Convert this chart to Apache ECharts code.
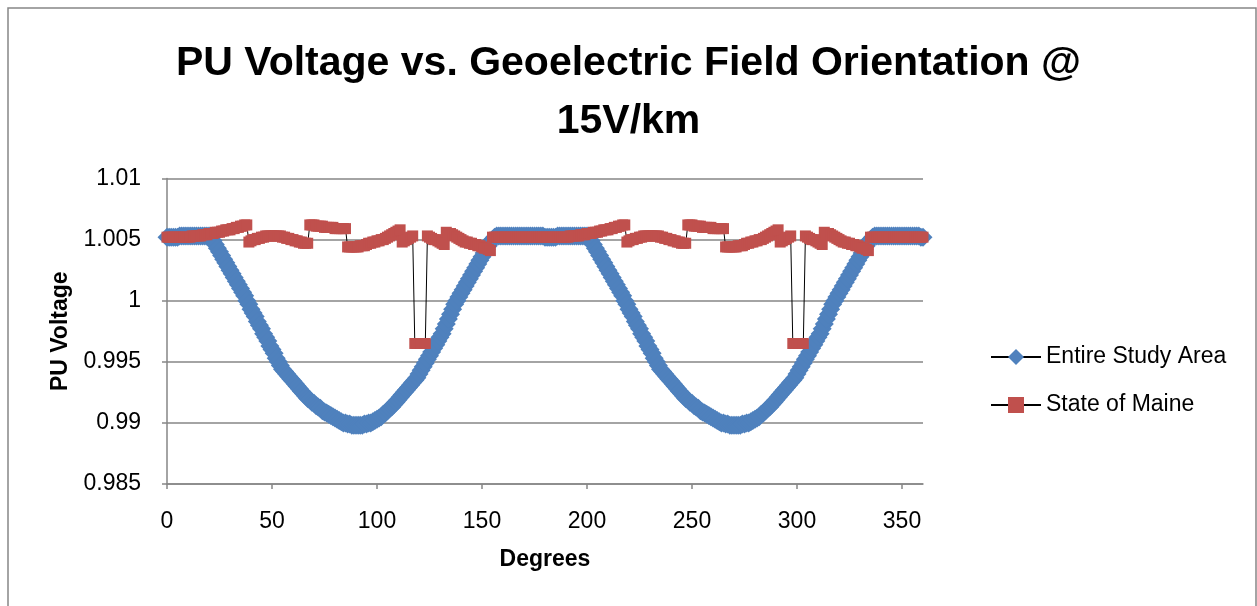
<!DOCTYPE html>
<html>
<head>
<meta charset="utf-8">
<script src="https://cdn.jsdelivr.net/npm/echarts@6/dist/echarts.min.js"></script>
<style>
html,body{margin:0;padding:0;background:#fff;}
#chart{width:1257px;height:606px;}
</style>
</head>
<body>
<div id="chart"></div>
<script>
// Degrees 0..360 (one point per degree)
const degrees = Array.from({length: 361}, (_, i) => i);

const seriesNames = ['Entire Study Area', 'State of Maine'];

// Entire Study Area (PU voltage), 0..360 deg
const entireStudyArea = [
1.0052,1.0052,1.0052,1.0052,1.0052,1.0052,
1.0053,1.0053,1.0053,1.0053,1.0053,1.0053,1.0053,1.0053,1.0053,1.0053,1.0053,1.0053,1.0053,1.0053,1.0053,
1.0052,1.0049,1.0046,1.0043,1.0040,1.0037,1.0034,1.0031,1.0028,1.0025,
1.0022,1.0019,1.0016,1.0013,1.0010,1.0007,1.0004,1.0000,0.9997,0.9993,
0.9990,0.9987,0.9983,0.9980,0.9977,0.9973,0.9970,0.9967,0.9963,0.9960,
0.9957,0.9953,0.9950,0.9947,0.9944,0.9942,0.9940,0.9938,0.9936,0.9934,
0.9932,0.9930,0.9928,0.9926,0.9924,0.9922,0.9920,0.9919,0.9917,0.9916,
0.9914,0.9913,0.9912,0.9910,0.9909,0.9908,0.9907,0.9906,0.9905,0.9904,
0.9903,0.9902,0.9901,0.9900,0.9900,0.9899,0.9899,0.9898,0.9898,0.9898,
0.9898,0.9898,0.9898,0.9899,0.9899,0.9900,0.9900,0.9901,0.9902,0.9903,
0.9904,0.9905,0.9907,0.9908,0.9910,0.9912,0.9913,0.9915,0.9917,0.9919,
0.9921,0.9923,0.9925,0.9927,0.9929,0.9931,0.9933,0.9935,0.9937,0.9940,
0.9943,0.9946,0.9949,0.9952,0.9955,0.9958,0.9961,0.9964,0.9967,0.9970,
0.9973,0.9977,0.9981,0.9985,0.9989,0.9993,0.9997,1.0000,1.0003,1.0006,
1.0009,1.0012,1.0015,1.0018,1.0021,1.0024,1.0027,1.0030,1.0033,1.0036,
1.0039,1.0042,1.0045,1.0048,1.0050,1.0052,1.0053,1.0053,1.0053,1.0053,
1.0053,1.0053,1.0053,1.0053,1.0053,1.0053,1.0053,1.0053,1.0053,1.0053,
1.0053,1.0053,1.0053,1.0053,1.0053,1.0053,1.0053,1.0053,1.0053,1.0052,
1.0052,1.0052,1.0052,1.0052,1.0052,
1.0053,1.0053,1.0053,1.0053,1.0053,1.0053,1.0053,1.0053,1.0053,1.0053,1.0053,1.0053,1.0053,1.0053,1.0053,
1.0052,1.0049,1.0046,1.0043,1.0040,1.0037,1.0034,1.0031,1.0028,1.0025,
1.0022,1.0019,1.0016,1.0013,1.0010,1.0007,1.0004,1.0000,0.9997,0.9993,
0.9990,0.9987,0.9983,0.9980,0.9977,0.9973,0.9970,0.9967,0.9963,0.9960,
0.9957,0.9953,0.9950,0.9947,0.9944,0.9942,0.9940,0.9938,0.9936,0.9934,
0.9932,0.9930,0.9928,0.9926,0.9924,0.9922,0.9920,0.9919,0.9917,0.9916,
0.9914,0.9913,0.9912,0.9910,0.9909,0.9908,0.9907,0.9906,0.9905,0.9904,
0.9903,0.9902,0.9901,0.9900,0.9900,0.9899,0.9899,0.9898,0.9898,0.9898,
0.9898,0.9898,0.9898,0.9899,0.9899,0.9900,0.9900,0.9901,0.9902,0.9903,
0.9904,0.9905,0.9907,0.9908,0.9910,0.9912,0.9913,0.9915,0.9917,0.9919,
0.9921,0.9923,0.9925,0.9927,0.9929,0.9931,0.9933,0.9935,0.9937,0.9940,
0.9943,0.9946,0.9949,0.9952,0.9955,0.9958,0.9961,0.9964,0.9967,0.9970,
0.9973,0.9977,0.9981,0.9985,0.9989,0.9993,0.9997,1.0000,1.0003,1.0006,
1.0009,1.0012,1.0015,1.0018,1.0021,1.0024,1.0027,1.0030,1.0033,1.0036,
1.0039,1.0042,1.0045,1.0048,1.0050,1.0052,1.0053,1.0053,1.0053,1.0053,
1.0053,1.0053,1.0053,1.0053,1.0053,1.0053,1.0053,1.0053,1.0053,1.0053,
1.0053,1.0053,1.0053,1.0053,1.0053,1.0053,1.0053,1.0053,1.0052,1.0052
];

// State of Maine (PU voltage), 0..360 deg
const stateOfMaine = [
1.0052,1.0052,1.0052,1.0052,1.0052,1.0052,1.0052,1.0052,1.0052,1.0052,1.0052,1.0052,
1.0053,1.0053,1.0053,1.0053,1.0053,
1.0054,1.0054,1.0054,1.0055,1.0055,1.0055,1.0056,1.0056,1.0056,
1.0057,1.0057,1.0058,1.0058,1.0058,1.0059,1.0059,1.0060,1.0060,1.0061,1.0061,1.0062,1.0062,
1.0048,1.0049,1.0050,1.0050,1.0051,1.0051,1.0052,1.0052,1.0053,1.0053,
1.0053,1.0053,1.0053,1.0053,1.0053,1.0053,1.0052,1.0052,1.0051,1.0051,
1.0050,1.0050,1.0049,1.0049,1.0048,1.0048,1.0047,1.0047,1.0047,
1.0062,1.0062,1.0062,1.0061,1.0061,1.0061,1.0061,1.0060,1.0060,1.0060,1.0060,1.0060,1.0059,1.0059,1.0059,1.0059,1.0059,1.0059,
1.0044,1.0044,1.0044,1.0044,1.0044,1.0044,1.0045,1.0045,1.0045,1.0046,
1.0047,1.0047,1.0048,1.0048,1.0049,1.0049,1.0050,1.0050,1.0051,1.0052,
1.0053,1.0054,1.0055,1.0056,1.0057,1.0058,
1.0048,1.0049,1.0050,1.0051,1.0052,1.0053,
0.9965,0.9965,0.9965,0.9965,0.9965,0.9965,
1.0053,1.0052,1.0051,1.0050,1.0050,1.0049,1.0048,1.0047,1.0046,
1.0056,1.0055,1.0055,1.0054,1.0053,1.0052,1.0051,1.0050,1.0049,1.0048,
1.0048,1.0047,1.0047,1.0046,1.0046,1.0045,1.0045,1.0044,1.0043,1.0043,
1.0042,1.0041,
1.0052,1.0052,1.0052,1.0052,1.0052,1.0052,1.0052,1.0052,1.0052,1.0052,1.0052,1.0052,1.0052,
1.0052,1.0052,1.0052,1.0052,1.0052,1.0052,1.0052,1.0052,1.0052,1.0052,1.0052,1.0052,1.0052,
1.0052,1.0052,1.0052,1.0052,1.0052,1.0052,1.0052,1.0052,1.0052,1.0052,1.0052,
1.0053,1.0053,1.0053,1.0053,1.0053,
1.0054,1.0054,1.0054,1.0055,1.0055,1.0055,1.0056,1.0056,1.0056,
1.0057,1.0057,1.0058,1.0058,1.0058,1.0059,1.0059,1.0060,1.0060,1.0061,1.0061,1.0062,1.0062,
1.0048,1.0049,1.0050,1.0050,1.0051,1.0051,1.0052,1.0052,1.0053,1.0053,
1.0053,1.0053,1.0053,1.0053,1.0053,1.0053,1.0052,1.0052,1.0051,1.0051,
1.0050,1.0050,1.0049,1.0049,1.0048,1.0048,1.0047,1.0047,1.0047,
1.0062,1.0062,1.0062,1.0061,1.0061,1.0061,1.0061,1.0060,1.0060,1.0060,1.0060,1.0060,1.0059,1.0059,1.0059,1.0059,1.0059,1.0059,
1.0044,1.0044,1.0044,1.0044,1.0044,1.0044,1.0045,1.0045,1.0045,1.0046,
1.0047,1.0047,1.0048,1.0048,1.0049,1.0049,1.0050,1.0050,1.0051,1.0052,
1.0053,1.0054,1.0055,1.0056,1.0057,1.0058,
1.0048,1.0049,1.0050,1.0051,1.0052,1.0053,
0.9965,0.9965,0.9965,0.9965,0.9965,0.9965,
1.0053,1.0052,1.0051,1.0050,1.0050,1.0049,1.0048,1.0047,1.0046,
1.0056,1.0055,1.0055,1.0054,1.0053,1.0052,1.0051,1.0050,1.0049,1.0048,
1.0048,1.0047,1.0047,1.0046,1.0046,1.0045,1.0045,1.0044,1.0043,1.0043,
1.0042,1.0041,
1.0052,1.0052,1.0052,1.0052,1.0052,1.0052,1.0052,1.0052,1.0052,1.0052,1.0052,1.0052,1.0052,
1.0052,1.0052,1.0052,1.0052,1.0052,1.0052,1.0052,1.0052,1.0052,1.0052,1.0052,1.0052,1.0052
];

const xTicks = [0, 50, 100, 150, 200, 250, 300, 350];
const yTicks = [0.985, 0.99, 0.995, 1, 1.005, 1.01];

const pairs = (ys) => degrees.map((d, i) => [d, ys[i]]);
const FONT = '"Liberation Sans", Arial, sans-serif';
const GRAY = '#868686';

const chart = echarts.init(document.getElementById('chart'), null, {renderer: 'canvas'});
chart.setOption({
  animation: false,
  backgroundColor: '#ffffff',
  graphic: [{
    type: 'rect', silent: true, z: -10,
    shape: {x: 8, y: 8, width: 1248, height: 640},
    style: {fill: 'none', stroke: GRAY, lineWidth: 1.5}
  }],
  title: {
    text: 'PU Voltage vs. Geoelectric Field Orientation @\n15V/km',
    left: 'center',
    top: 30,
    textStyle: {fontFamily: FONT, fontSize: 41, fontWeight: 'bold', color: '#000', lineHeight: 58, align: 'center'}
  },
  legend: {
    orient: 'vertical',
    left: 985,
    top: 340,
    itemWidth: 50,
    itemHeight: 20,
    itemGap: 24,
    data: seriesNames,
    textStyle: {fontFamily: FONT, fontSize: 23, color: '#000', lineHeight: 24}
  },
  grid: {left: 167, right: 334, top: 178.5, bottom: 122, containLabel: false},
  xAxis: {
    type: 'value', min: 0, max: 360, interval: 50,
    name: 'Degrees', nameLocation: 'middle', nameGap: 64,
    nameTextStyle: {fontFamily: FONT, fontSize: 23, fontWeight: 'bold', color: '#000'},
    axisLine: {lineStyle: {color: GRAY, width: 1.5}},
    axisTick: {show: true, length: 5, lineStyle: {color: GRAY, width: 1.5}},
    splitLine: {show: false},
    axisLabel: {fontFamily: FONT, fontSize: 23, color: '#000', margin: 26, showMaxLabel: false,
      formatter: v => xTicks.indexOf(v) >= 0 ? String(v) : ''}
  },
  yAxis: {
    type: 'value', min: 0.985, max: 1.01, interval: 0.005,
    name: 'PU Voltage', nameLocation: 'middle', nameGap: 93, nameRotate: 90,
    nameTextStyle: {fontFamily: FONT, fontSize: 23, fontWeight: 'bold', color: '#000'},
    axisLine: {show: true, lineStyle: {color: GRAY, width: 1.5}},
    axisTick: {show: true, length: 5, lineStyle: {color: GRAY, width: 1.5}},
    splitLine: {show: true, lineStyle: {color: GRAY, width: 1.5}},
    axisLabel: {fontFamily: FONT, fontSize: 23, color: '#000', margin: 26,
      formatter: v => {
        const t = yTicks.find(y => Math.abs(y - v) < 1e-9);
        return t === undefined ? '' : String(t);
      }}
  },
  series: [
    {
      name: seriesNames[0], type: 'line', data: pairs(entireStudyArea),
      symbol: 'diamond', symbolSize: 19, showAllSymbol: true,
      lineStyle: {color: '#000', width: 1},
      itemStyle: {color: '#4F81BD'}
    },
    {
      name: seriesNames[1], type: 'line', data: pairs(stateOfMaine),
      symbol: 'rect', symbolSize: 11, showAllSymbol: true,
      lineStyle: {color: '#000', width: 1},
      itemStyle: {color: '#C0504D'}
    }
  ]
});
</script>
</body>
</html>
